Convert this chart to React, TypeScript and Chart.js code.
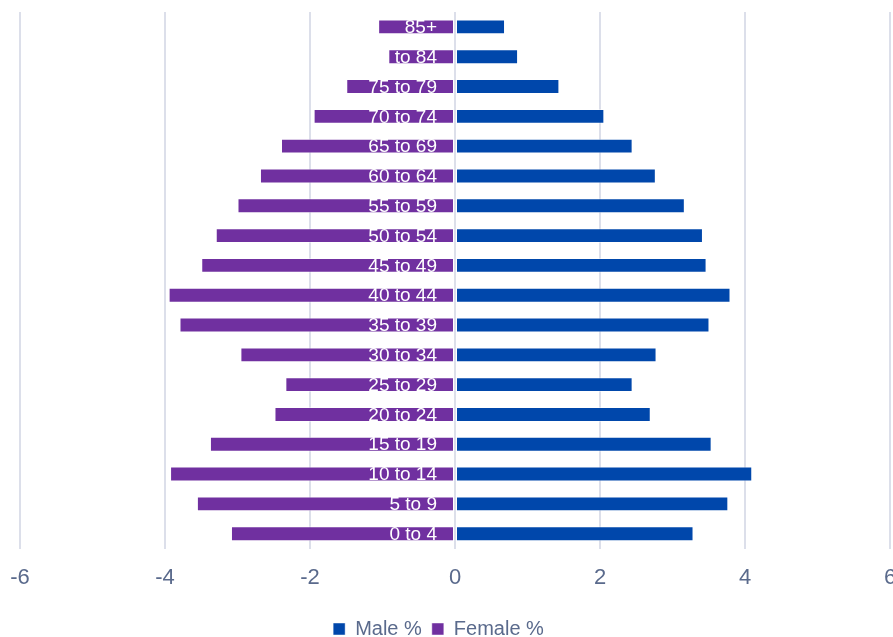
import { useEffect, useRef } from "react";
import { Chart, registerables } from "chart.js";

Chart.register(...registerables);

// Age bands, listed from the top row down
const ageGroups = [
  "85+", "80 to 84", "75 to 79", "70 to 74", "65 to 69", "60 to 64",
  "55 to 59", "50 to 54", "45 to 49", "40 to 44", "35 to 39", "30 to 34",
  "25 to 29", "20 to 24", "15 to 19", "10 to 14", "5 to 9", "0 to 4",
];

// Share of population (%)
const malePct = [
  0.69, 0.87, 1.44, 2.06, 2.45, 2.77, 3.17, 3.42, 3.47, 3.80, 3.51, 2.78,
  2.45, 2.70, 3.54, 4.10, 3.77, 3.29,
];

// Plotted to the left of zero
const femalePct = [
  -1.06, -0.92, -1.50, -1.95, -2.40, -2.69, -3.00, -3.30, -3.50, -3.95,
  -3.80, -2.96, -2.34, -2.49, -3.38, -3.93, -3.56, -3.09,
];

const xTickValues = [-6, -4, -2, 0, 2, 4, 6];

const MALE_COLOR = "#0047ab";
const FEMALE_COLOR = "#7030a0";
const TEXT_COLOR = "#5a6a8c";
const GRID_COLOR = "#dcdfea";

// Writes each age band in white inside its female bar, clipped to the bar
const bandLabels = {
  id: "bandLabels",
  afterDatasetsDraw(chart: any) {
    const meta = chart.getDatasetMeta(1);
    const ctx = chart.ctx;
    ctx.save();
    ctx.font = '19px "Liberation Sans", Arial, sans-serif';
    ctx.fillStyle = "#ffffff";
    ctx.textAlign = "right";
    ctx.textBaseline = "middle";
    meta.data.forEach((bar: any, i: number) => {
      const { x, y, base } = bar.getProps(["x", "y", "base"], true);
      const left = Math.min(x, base);
      const right = Math.max(x, base);
      ctx.save();
      ctx.beginPath();
      ctx.rect(left, y - 20, right - left, 40);
      ctx.clip();
      ctx.fillText(ageGroups[i], base - 17, y + 1);
      ctx.restore();
    });
    ctx.restore();
  },
};

// Nudges the legend block slightly left of the plot centre
const legendShift = {
  id: "legendShift",
  afterLayout(chart: any) {
    const lg = chart.legend;
    if (lg) {
      lg.left -= 33;
    }
  },
};

export default function App() {
  const canvasRef = useRef<HTMLCanvasElement | null>(null);

  useEffect(() => {
    document.body.style.margin = "0";
    document.body.style.overflow = "hidden";
    const canvas = canvasRef.current;
    if (!canvas) return;
    const chart = new Chart(canvas, {
      type: "bar",
      data: {
        labels: ageGroups,
        datasets: [
          {
            label: "Male %",
            data: malePct,
            backgroundColor: MALE_COLOR,
            borderColor: "rgba(255,255,255,0.45)",
            borderWidth: 1,
            borderSkipped: false,
          },
          {
            label: "Female %",
            data: femalePct,
            backgroundColor: FEMALE_COLOR,
            borderColor: "rgba(255,255,255,0.45)",
            borderWidth: 1,
            borderSkipped: false,
          },
        ],
      },
      options: {
        indexAxis: "y",
        responsive: false,
        animation: false,
        maintainAspectRatio: false,
        layout: { padding: { left: 20, right: 10, top: 12, bottom: 0 } },
        datasets: {
          bar: { categoryPercentage: 1, barPercentage: 0.5 },
        },
        scales: {
          x: {
            stacked: true,
            min: -6,
            max: 6,
            afterBuildTicks(scale: any) {
              scale.ticks = xTickValues.map((v) => ({ value: v }));
            },
            afterFit(scale: any) {
              scale.height += 18;
            },
            border: { display: false },
            grid: {
              color: GRID_COLOR,
              lineWidth: 2,
              drawTicks: true,
              tickLength: 16,
              tickColor: "rgba(0,0,0,0)",
            },
            ticks: {
              padding: 0,
              color: TEXT_COLOR,
              font: { family: '"Liberation Sans", Arial, sans-serif', size: 22 },
            },
          },
          y: {
            stacked: true,
            display: false,
          },
        },
        plugins: {
          tooltip: { enabled: false },
          legend: {
            position: "bottom",
            labels: {
              boxWidth: 12,
              boxHeight: 12,
              padding: 10,
              color: TEXT_COLOR,
              font: { family: '"Liberation Sans", Arial, sans-serif', size: 20 },
            },
          },
        },
      },
      plugins: [bandLabels, legendShift],
    });
    return () => chart.destroy();
  }, []);

  return (
    <div style={{ position: "absolute", left: 0, top: 0, width: 893, height: 637, overflow: "hidden", background: "#ffffff" }}>
      <canvas ref={canvasRef} width={900} height={649} style={{ display: "block" }} />
    </div>
  );
}
